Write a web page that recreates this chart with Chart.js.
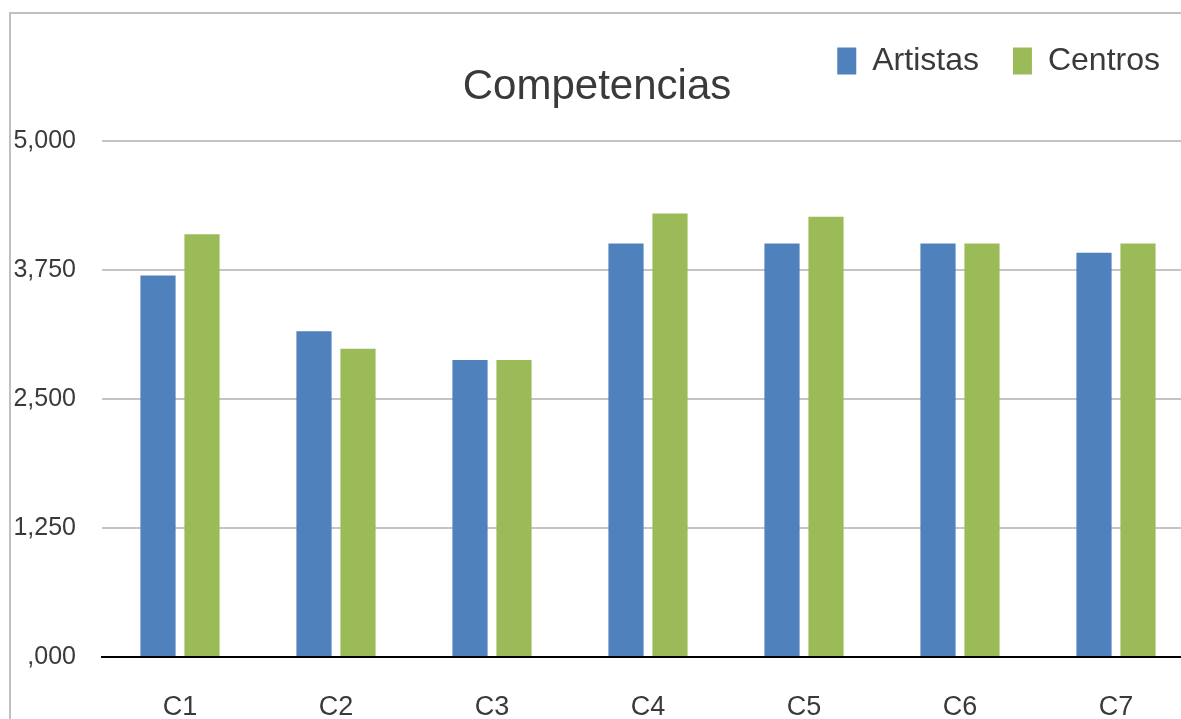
<!DOCTYPE html>
<html>
<head>
<meta charset="utf-8">
<script src="https://cdn.jsdelivr.net/npm/chart.js@4/dist/chart.umd.min.js"></script>
<style>
  html, body { margin: 0; padding: 0; background: #fff; overflow: hidden; width: 1181px; height: 719px; }
  #frame { position: absolute; left: 9px; top: 12px; width: 1300px; height: 800px; border: 2px solid #c0c0c0; }
  #chart { position: absolute; left: 0; top: 0; }
</style>
</head>
<body>
<div id="frame"></div>
<canvas id="chart" width="1210" height="730"></canvas>
<script>
// data
const categories = ['C1', 'C2', 'C3', 'C4', 'C5', 'C6', 'C7'];
const artistas = [3.70, 3.16, 2.88, 4.01, 4.01, 4.01, 3.92];
const centros = [4.10, 2.99, 2.88, 4.30, 4.27, 4.01, 4.01];
const yTickLabels = [',000', '1,250', '2,500', '3,750', '5,000'];

const font = '"Liberation Sans", Arial, sans-serif';
const textColor = '#3a3a3a';

const ctx = document.getElementById('chart').getContext('2d');
const chart = new Chart(ctx, {
  type: 'bar',
  data: {
    labels: categories,
    datasets: [
      { label: 'Artistas', data: artistas, backgroundColor: '#4f81bd' },
      { label: 'Centros', data: centros, backgroundColor: '#9bbb59' }
    ]
  },
  options: {
    responsive: false,
    animation: false,
    layout: { padding: { top: 11, right: 16, left: 0, bottom: 0 } },
    datasets: {
      bar: { barPercentage: 0.8, categoryPercentage: 0.564 }
    },
    plugins: {
      legend: {
        position: 'top',
        align: 'end',
        weight: 3000,
        labels: {
          font: { family: font, size: 32 },
          color: textColor,
          boxWidth: 19,
          boxHeight: 27,
          padding: 34
        }
      },
      title: {
        display: true,
        text: 'Competencias',
        color: textColor,
        font: { family: font, size: 42, weight: 'normal' },
        padding: { top: -25, bottom: 29 }
      },
      tooltip: { enabled: false }
    },
    scales: {
      x: {
        grid: { display: false },
        border: { display: true, color: '#000', width: 2 },
        ticks: { font: { family: font, size: 27 }, color: textColor, padding: 26 },
        afterFit: s => { s.height = 73; }
      },
      y: {
        min: 0,
        max: 5,
        grid: { color: '#c4c4c4', lineWidth: 2, drawTicks: false },
        border: { display: false },
        ticks: {
          stepSize: 1.25,
          padding: 26,
          font: { family: font, size: 25 },
          color: textColor,
          callback: (v, i) => yTickLabels[i]
        },
        afterFit: s => { s.width = 102; }
      }
    }
  }
});
</script>
</body>
</html>
